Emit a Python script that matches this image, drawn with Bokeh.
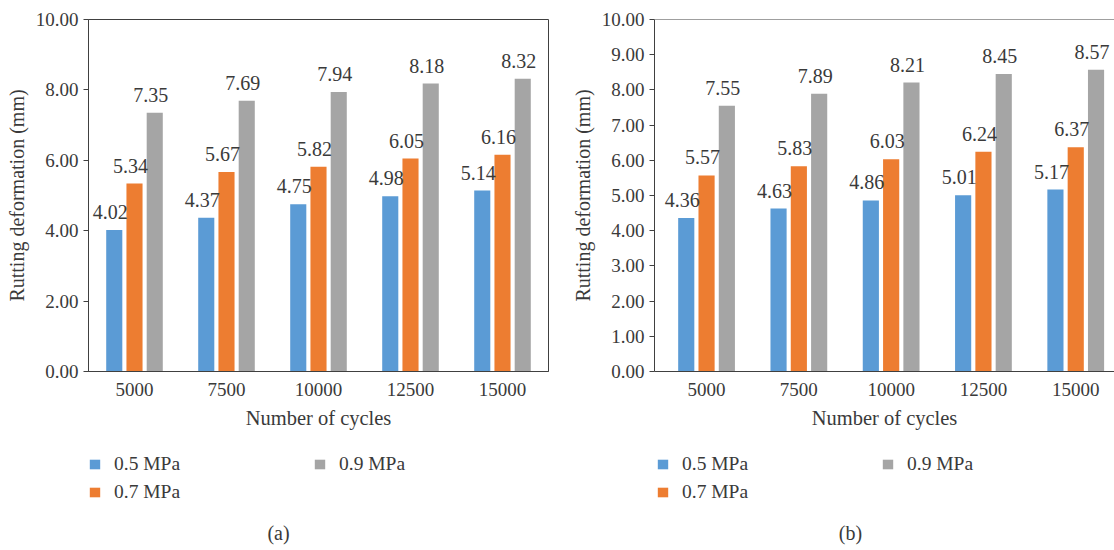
import numpy as np
from bokeh.plotting import figure
from bokeh.models import (ColumnDataSource, Range1d, FixedTicker, NumeralTickFormatter,
                          Legend, LegendItem, Label, Span, LabelSet)
from bokeh.layouts import row, column
from bokeh.embed import file_html
from bokeh.resources import INLINE

cycles = ["5000", "7500", "10000", "12500", "15000"]
series = ["0.5 MPa", "0.7 MPa", "0.9 MPa"]
a_05 = [4.02, 4.37, 4.75, 4.98, 5.14]
a_07 = [5.34, 5.67, 5.82, 6.05, 6.16]
a_09 = [7.35, 7.69, 7.94, 8.18, 8.32]
b_05 = [4.36, 4.63, 4.86, 5.01, 5.17]
b_07 = [5.57, 5.83, 6.03, 6.24, 6.37]
b_09 = [7.55, 7.89, 8.21, 8.45, 8.57]
a_ticks = [0, 2, 4, 6, 8, 10]
b_ticks = [0, 1, 2, 3, 4, 5, 6, 7, 8, 9, 10]
colors = ["#5B9BD5", "#ED7D31", "#A5A5A5"]

FONT = "Liberation Serif"
TXT = "#3a3a3a"
LINE = "#404040"
offsets = [-0.22, 0.0, 0.22]
BAR_W = 0.175
BOTTOM_H = 105


def panel(vals, xr, yticks, width, mbr, caption, cap_x, leg_x, full_outline):
    p = figure(frame_width=460, frame_height=352, x_range=Range1d(*xr), y_range=Range1d(0, 10),
               output_backend="svg", toolbar_location=None,
               min_border_left=88, min_border_right=mbr, min_border_top=19,
               min_border_bottom=74)
    p.xgrid.visible = False
    p.ygrid.visible = False
    p.background_fill_color = "white"
    p.border_fill_color = "white"
    if full_outline:
        p.outline_line_color = LINE
    else:
        p.outline_line_color = None
        p.add_layout(Span(location=10, dimension="width", line_color=LINE, line_width=1))

    idx = np.arange(len(cycles))
    for s, (v, c, off) in enumerate(zip(vals, colors, offsets)):
        src = ColumnDataSource(dict(x=idx + off, top=v, lab=["%.2f" % t for t in v]))
        p.vbar(x="x", top="top", width=BAR_W, source=src, fill_color=c, line_color=None)
        p.add_layout(LabelSet(x="x", y="top", text="lab", source=src, text_align="center",
                              text_baseline="alphabetic", y_offset=11, x_offset=-4,
                              text_font=FONT, text_font_size="20px", text_color=TXT))

    xa = p.xaxis[0]
    xa.ticker = FixedTicker(ticks=list(idx))
    xa.major_label_overrides = {int(i): cycles[i] for i in idx}
    xa.major_tick_line_color = None
    xa.minor_tick_line_color = None
    xa.axis_line_color = LINE
    xa.major_label_text_font = FONT
    xa.major_label_text_font_size = "19px"
    xa.major_label_text_color = TXT
    xa.major_label_standoff = 5
    xa.axis_label = "Number of cycles"
    xa.axis_label_text_font = FONT
    xa.axis_label_text_font_size = "20.5px"
    xa.axis_label_text_font_style = "normal"
    xa.axis_label_text_color = TXT
    xa.axis_label_standoff = 8

    ya = p.yaxis[0]
    ya.ticker = FixedTicker(ticks=yticks)
    ya.formatter = NumeralTickFormatter(format="0.00")
    ya.minor_tick_line_color = None
    ya.major_tick_in = 0
    ya.major_tick_out = 5
    ya.major_tick_line_color = LINE
    ya.axis_line_color = LINE
    ya.major_label_text_font = FONT
    ya.major_label_text_font_size = "19px"
    ya.major_label_text_color = TXT
    ya.major_label_standoff = 5
    ya.axis_label = "Rutting deformation (mm)"
    ya.axis_label_text_font = FONT
    ya.axis_label_text_font_size = "20px"
    ya.axis_label_text_font_style = "normal"
    ya.axis_label_text_color = TXT
    ya.axis_label_standoff = 5

    # bottom strip: legend and caption (its frame is aligned with the chart frame above)
    q = figure(width=width, height=BOTTOM_H, x_range=Range1d(0, 460), y_range=Range1d(0, BOTTOM_H),
               output_backend="svg", toolbar_location=None, x_axis_type=None, y_axis_type=None,
               min_border=0)
    q.xgrid.visible = False
    q.ygrid.visible = False
    q.outline_line_color = None
    items = []
    for s, c in enumerate(colors):
        # legend swatch only: one hidden zero-height bar outside the strip's range
        r = q.vbar(x=[-1000], top=[0], width=1, fill_color=c, line_color=None)
        items.append(LegendItem(label=series[s], renderers=[r]))
    leg = Legend(items=items, orientation="vertical", nrows=2, location=(leg_x, 47),
                 glyph_width=13, glyph_height=12, label_standoff=13, label_width=193,
                 label_height=20, spacing=6, padding=0, margin=0,
                 border_line_color=None, background_fill_alpha=0,
                 label_text_font=FONT, label_text_font_size="19.5px", label_text_color=TXT)
    q.add_layout(leg)
    q.add_layout(Label(x=cap_x, y=18, x_units="screen", y_units="screen", text=caption,
                       text_align="center", text_baseline="middle", text_font=FONT,
                       text_font_size="20px", text_color=TXT))
    return column(p, q, spacing=0)


c1 = panel([a_05, a_07, a_09], (-0.5, 4.5), a_ticks, 566, 18, "(a)", 190, 0, True)
c2 = panel([b_05, b_07, b_09], (-0.564, 4.42), b_ticks, 548, 0, "(b)", 196, 2, False)

lay = row(c1, c2, spacing=0)
open("out.html", "w").write(file_html(lay, INLINE))
